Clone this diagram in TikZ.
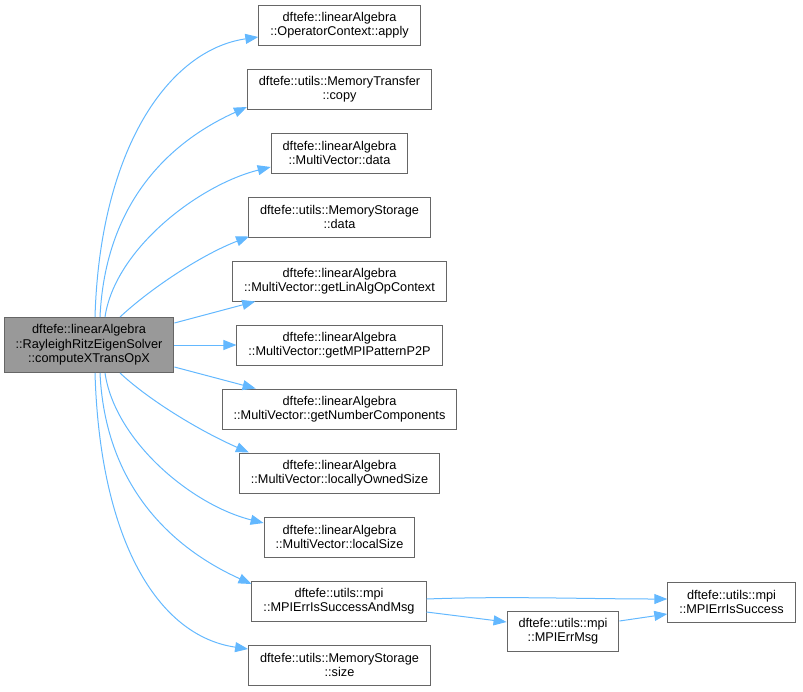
\documentclass[tikz,border=0pt]{standalone}
\usepackage{fontspec}
\setmainfont{Liberation Sans}
\usetikzlibrary{arrows.meta}
\definecolor{edgeblue}{HTML}{63B8FF}
\definecolor{boxgray}{HTML}{666666}
\definecolor{rootgray}{HTML}{999999}
\begin{document}
\begin{tikzpicture}[x=1pt,y=-1pt,
    box/.style={draw=boxgray,line width=1pt,rectangle,align=center,
      inner xsep=11.5pt,inner ysep=0pt,minimum height=40pt,
      font=\fontsize{12.7}{14.5}\selectfont},
    rootbox/.style={box,fill=rootgray,minimum height=55pt},
    edge/.style={draw=edgeblue,line width=1pt,
      -{Triangle[length=13pt,width=10pt]}}]
    \useasboundingbox (0,0) rectangle (803,691);

    \node[rootbox] (root) at (89,345)
    {dftefe::linearAlgebra\\::RayleighRitzEigenSolver\\::computeXTransOpX};

    \node[box] (apply) at (339.5,25) {dftefe::linearAlgebra\\::OperatorContext::apply};
    \node[box] (copy) at (339.5,89) {dftefe::utils::MemoryTransfer\\::copy};
    \node[box] (mvdata) at (339.5,153) {dftefe::linearAlgebra\\::MultiVector::data};
    \node[box] (msdata) at (339.5,217) {dftefe::utils::MemoryStorage\\::data};
    \node[box] (linalg) at (339.5,281) {dftefe::linearAlgebra\\::MultiVector::getLinAlgOpContext};
    \node[box] (pattern) at (339.5,345) {dftefe::linearAlgebra\\::MultiVector::getMPIPatternP2P};
    \node[box] (numcomp) at (339.5,409) {dftefe::linearAlgebra\\::MultiVector::getNumberComponents};
    \node[box] (owned) at (339.5,473) {dftefe::linearAlgebra\\::MultiVector::locallyOwnedSize};
    \node[box] (local) at (339.5,537) {dftefe::linearAlgebra\\::MultiVector::localSize};
    \node[box] (succmsg) at (339,601) {dftefe::utils::mpi\\::MPIErrIsSuccessAndMsg};
    \node[box] (mssize) at (339.5,665) {dftefe::utils::MemoryStorage\\::size};

    \node[box] (errmsg) at (563,631) {dftefe::utils::mpi\\::MPIErrMsg};
    \node[box] (succ) at (731.5,602) {dftefe::utils::mpi\\::MPIErrIsSuccess};

    % calls going up
    \draw[edge] ([xshift=6pt]root.north) .. controls +(5,-168) and +(-90,13) .. ([yshift=-12pt]apply.west);
    \draw[edge] ([xshift=11pt]root.north) .. controls +(6,-128) and +(-62,28) .. ([yshift=-18pt]copy.west);
    \draw[edge] ([xshift=16pt]root.north) .. controls +(10,-68) and +(-72,18) .. ([yshift=-14pt]mvdata.west);
    \draw[edge] ([xshift=31pt]root.north) .. controls +(30,-28) and +(-49,19) .. ([xshift=1pt,yshift=1pt]msdata.south west);
    \draw[edge] ([yshift=22pt]root.east) -- ([xshift=23pt]linalg.south west);
    \draw[edge] (root.east) -- (pattern.west);
    % calls going down
    \draw[edge] ([yshift=-22pt]root.east) -- ([xshift=34pt]numcomp.north west);
    \draw[edge] ([xshift=31pt]root.south) .. controls +(30,28) and +(-48,-21) .. ([xshift=10pt]owned.north west);
    \draw[edge] ([xshift=16pt]root.south) .. controls +(10,68) and +(-72,-18) .. ([yshift=14pt]local.west);
    \draw[edge] ([xshift=11pt]root.south) .. controls +(6,128) and +(-62,-28) .. ([yshift=17pt]succmsg.west);
    \draw[edge] ([xshift=6pt]root.south) .. controls +(5,168) and +(-90,-13) .. ([yshift=16pt]mssize.west);

    % mpi helpers
    \draw[edge] ([yshift=2pt]succmsg.east) .. controls +(80,-3) and +(-80,0) .. ([yshift=3pt]succ.west);
    \draw[edge] ([yshift=-11pt]succmsg.east) -- ([yshift=9pt]errmsg.west);
    \draw[edge] ([yshift=10pt]errmsg.east) -- ([yshift=-12pt]succ.west);
\end{tikzpicture}
\end{document}
